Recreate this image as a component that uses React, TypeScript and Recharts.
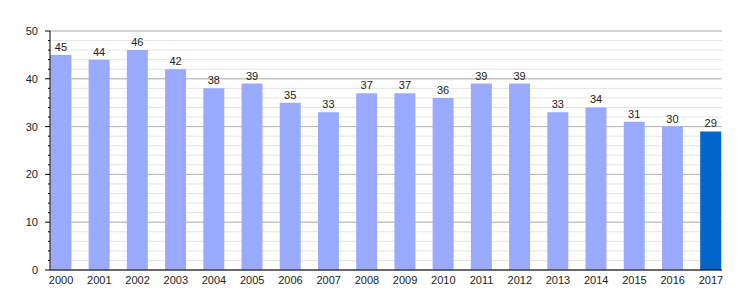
import React from 'react';
import { BarChart, Bar, XAxis, YAxis, CartesianGrid, Cell, LabelList } from 'recharts';

const years = ['2000', '2001', '2002', '2003', '2004', '2005', '2006', '2007', '2008', '2009', '2010', '2011', '2012', '2013', '2014', '2015', '2016', '2017'];
const values = [45, 44, 46, 42, 38, 39, 35, 33, 37, 37, 36, 39, 39, 33, 34, 31, 30, 29];
const minorTicks = [0, 2, 4, 6, 8, 10, 12, 14, 16, 18, 20, 22, 24, 26, 28, 30, 32, 34, 36, 38, 40, 42, 44, 46, 48, 50];
const majorTicks = [0, 10, 20, 30, 40, 50];
const yMax = 50;

const data = years.map((year, i) => ({ year, value: values[i] }));

const YTick = (props: any) => {
  const { x, y, payload } = props;
  const major = payload.value % 10 === 0;
  return (
    <g>
      <line x1={x - (major ? 5 : 2)} x2={x} y1={y} y2={y} stroke="#000" />
      {major && (
        <text x={x - 12} y={y} dy={4} textAnchor="end" fontSize={11} fill="#222">
          {payload.value}
        </text>
      )}
    </g>
  );
};

// major gridlines: map values onto the plot area
const majorLines = ({ yAxis, offset }: any) =>
  majorTicks.map((v) => {
    const s = yAxis && yAxis.scale;
    if (typeof s === 'function') return s(v);
    if (s && typeof s.map === 'function') return s.map(v);
    return offset.top + offset.height * (1 - v / yMax);
  });

const App: React.FC = () => {
  return (
    <div style={{ position: 'absolute', left: 0, top: 0, fontFamily: '"Liberation Sans", Arial, sans-serif' }}>
      <BarChart width={750} height={300} data={data} margin={{ top: 31, right: 28, left: 0, bottom: 0 }} barCategoryGap="22%">
        <CartesianGrid vertical={false} stroke="#e4e4e4" />
        <CartesianGrid vertical={false} stroke="#b4b4b4" horizontalCoordinatesGenerator={majorLines} />
        <XAxis
          dataKey="year"
          interval={0}
          padding={{ left: -8, right: -8 }}
          tickLine={false}
          axisLine={{ stroke: '#000' }}
          tick={{ fontSize: 11, fill: '#222' }}
          tickMargin={0}
          height={30}
        />
        <YAxis
          domain={[0, yMax]}
          ticks={minorTicks}
          interval={0}
          width={50}
          tickSize={0}
          tickMargin={0}
          tickLine={false}
          axisLine={{ stroke: '#000' }}
          tick={<YTick />}
        />
        <Bar dataKey="value" isAnimationActive={false}>
          {data.map((d, i) => (
            <Cell key={`cell-${d.year}`} fill={i === data.length - 1 ? '#0066cc' : '#99aaff'} />
          ))}
          <LabelList dataKey="value" position="top" offset={4} fontSize={11} fill="#222" />
        </Bar>
      </BarChart>
    </div>
  );
};

export default App;
